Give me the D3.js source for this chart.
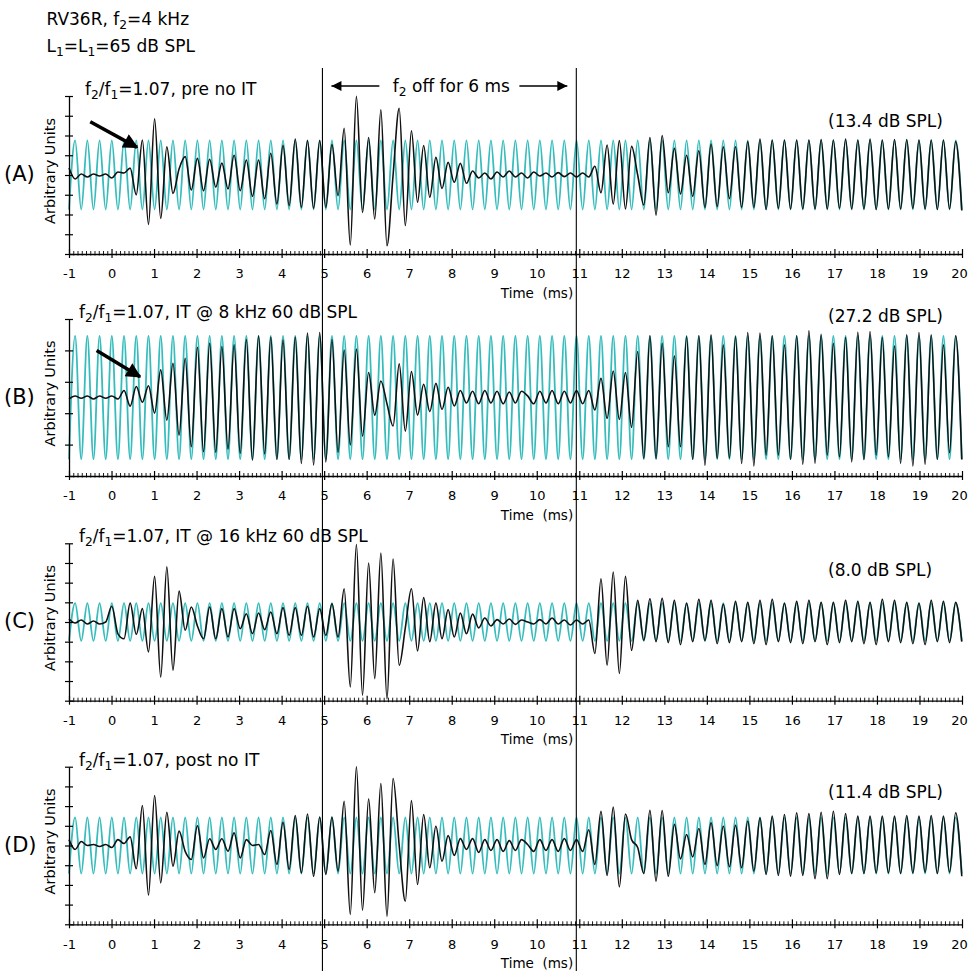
<!DOCTYPE html>
<html lang="en">
<head>
<meta charset="UTF-8" />
<title>DPOAE onset, f2 off for 6 ms</title>
<script src="https://d3js.org/d3.v7.min.js"></script>
<style>
    body { margin: 0; background: #fff; font-family: 'DejaVu Sans', sans-serif; }
    svg text { fill: #000; }
</style>
</head>
<body>
<svg id="chart" width="969" height="971"></svg>
<script>

// one sample per half cycle of the 2f1-f2 tone (about 3.48 kHz), starting at -1 ms
var startMs = -1;
var halfPeriodMs = 0.1438;

var xTickValues = [-1, 0, 1, 2, 3, 4, 5, 6, 7, 8, 9, 10, 11, 12, 13, 14, 15, 16, 17, 18, 19, 20];
var f2OffMs = [4.96, 10.93];

var panelIds = ["(A)", "(B)", "(C)", "(D)"];
var panelTitles = ["f_2/f_1=1.07, pre no IT", "f_2/f_1=1.07, IT @ 8 kHz 60 dB SPL",
                   "f_2/f_1=1.07, IT @ 16 kHz 60 dB SPL", "f_2/f_1=1.07, post no IT"];
var levelLabels = ["(13.4 dB SPL)", "(27.2 dB SPL)", "(8.0 dB SPL)", "(11.4 dB SPL)"];
var yDomains = [[-4, 4], [-5, 5], [-4, 4], [-4, 4]];
var yTicks = [[-4, -3, -2, -1, 0, 1, 2, 3, 4], [-5, -3, -1, 1, 3, 5],
              [-4, -3, -2, -1, 0, 1, 2, 3, 4], [-4, -3, -2, -1, 0, 1, 2, 3, 4]];

// cyan reference tone: constant amplitude in each panel
var cyanAmp = [1.75, 3.93, 0.96, 1.43];

// black traces: extremum values, one per half cycle
var blackA = [
    0.35, -0.2, 0.05, -0.1, 0.05, -0.05, 0.05, -0.15, 0.15, 0.1,
    0.35, -1.0, 1.77, -2.5, 2.84, -2.2, 1.43, -0.93, 0.3, 0.93,
    -0.76, 0.84, -0.8, 0.8, -0.62, 0.6, -0.7, 1.0, -0.8, 0.76,
    -1.08, 0.76, -1.2, 1.1, -1.47, 1.5, -1.55, 1.82, -1.64, 1.74,
    -1.69, 1.74, -1.64, 1.55, -1.05, 2.36, -3.54, 3.98, -1.9, 1.9,
    -2.23, 3.3, -3.58, 0.0, 3.38, -2.56, 2.24, -1.38, 1.49, -1.13,
    0.89, -0.68, 0.64, -0.37, 0.59, -0.42, 0.2, -0.15, 0.1, -0.2,
    0.15, -0.1, 0.2, -0.1, 0.1, -0.15, 0.15, -0.05, 0.1, -0.1,
    0.12, -0.08, 0.1, -0.1, 0.1, -0.1, 0.44, -0.9, 1.52, -1.47,
    1.74, -1.72, 1.45, 0.0, -1.52, 1.9, -2.03, 2.0, -0.9, 1.35,
    -0.96, 1.0, -1.08, 1.23, -1.64, 1.57, -1.6, 1.43, -1.2, 1.43,
    -1.64, 1.69, -1.64, 1.82, -1.75, 1.77, -1.69, 1.77, -1.72, 1.77,
    -1.72, 1.77, -1.72, 1.8, -1.72, 1.77, -1.69, 1.82, -1.72, 1.77,
    -1.72, 1.82, -1.75, 1.77, -1.72, 1.8, -1.72, 1.8, -1.69, 1.77,
    -1.72, 1.77, -1.75, 1.77, -1.72, 1.69, -1.8
];
var blackB = [
    -0.1, 0.1, -0.05, 0.1, -0.1, 0.1, -0.05, 0.1, -0.1, 0.45,
    -0.55, 0.7, -0.3, 0.75, -1.0, 1.76, -1.44, 2.18, -2.4, 2.5,
    -3.14, 3.2, -3.46, 3.46, -3.5, 3.25, -3.3, 3.35, -3.57, 3.7,
    -4.0, 3.93, -3.6, 3.85, -3.95, 3.68, -3.95, 3.85, -4.2, 4.1,
    -4.3, 4.14, -4.1, 3.7, -3.5, 3.03, -3.03, 3.08, -2.46, 1.59,
    -1.12, 1.05, -0.4, -1.82, 2.14, -2.14, 1.65, -1.12, 0.84, -0.9,
    0.9, -0.76, 0.65, -0.54, 0.45, -0.35, 0.4, -0.4, 0.45, -0.35,
    0.4, -0.4, 0.35, -0.35, 0.4, 0.1, -0.4, 0.4, -0.35, 0.45,
    -0.4, 0.4, -0.35, 0.45, -0.4, 0.45, -0.8, 1.22, -1.33, 1.69,
    -1.4, 1.59, -1.9, 2.93, -3.89, 3.93, -3.89, 3.46, -3.14, 2.65,
    -3.14, 3.89, -3.95, 3.93, -4.31, 4.0, -3.89, 3.35, -3.85, 3.89,
    -4.2, 4.14, -4.36, 4.1, -3.67, 3.93, -3.67, 3.35, -3.95, 3.93,
    -4.25, 4.25, -4.2, 4.03, -3.67, 3.46, -3.78, 3.84, -4.1, 4.16,
    -3.95, 4.2, -3.67, 3.84, -3.78, 3.29, -4.2, 4.0, -4.36, 4.14,
    -4.25, 4.0, -3.95, 3.35, -3.52, 3.93, -3.95
];
var blackC = [
    0.15, -0.05, 0.1, -0.1, 0.05, -0.1, 0.0, 0.8, -0.6, -0.85,
    0.96, -0.63, 0.68, -1.52, 2.32, -2.8, 2.8, -2.45, 1.57, -0.42,
    0.76, -0.2, -0.85, 0.76, -0.85, 0.68, -0.76, 0.68, -0.34, 0.42,
    -0.59, 0.46, -0.39, 0.51, -0.59, 0.73, -0.68, 0.73, -0.68, 0.8,
    -0.76, 0.68, -0.68, 0.93, -0.76, 1.69, -3.3, 3.94, -3.72, 3.0,
    -2.88, 3.5, -3.9, 3.2, -2.2, -0.3, 1.69, -1.47, 1.24, -1.0,
    0.96, -0.85, 0.63, -0.76, 0.45, -0.6, 0.4, -0.3, 0.2, -0.2,
    0.12, -0.1, 0.15, -0.12, 0.1, 0.0, -0.1, 0.12, -0.1, 0.2,
    -0.1, 0.1, -0.15, 0.1, -0.1, 0.1, -1.6, 2.2, -2.2, 2.54,
    -2.62, 2.32, -1.44, 1.1, -0.93, 1.18, -1.0, 1.2, -1.05, 1.1,
    -1.15, 0.95, -1.0, 1.15, -0.95, 1.1, -1.1, 0.9, -1.05, 1.05,
    -1.0, 1.0, -1.1, 1.1, -1.15, 1.15, -1.0, 0.95, -1.05, 1.05,
    -1.1, 1.1, -1.0, 1.0, -1.15, 1.0, -1.05, 1.1, -1.0, 1.05,
    -1.1, 1.0, -1.15, 1.15, -1.0, 1.1, -1.05, 1.0, -1.1, 0.95,
    -1.15, 1.1, -1.0, 1.05, -1.05, 1.0, -1.0
];
var blackD = [
    0.3, -0.2, 0.2, 0.0, 0.05, -0.05, 0.05, -0.1, 0.3, 0.1,
    0.44, -1.18, 2.03, -2.52, 2.54, -1.9, 1.69, -1.05, 0.73, -0.3,
    -0.71, 1.0, -0.63, 0.34, -0.2, 0.34, -0.29, 0.64, -0.63, 0.3,
    0.0, 0.05, -0.46, 0.76, -0.96, 1.18, -1.22, 1.52, -1.39, 1.6,
    -1.56, 1.45, -1.47, 1.45, -1.3, 2.25, -3.5, 4.0, -3.28, 2.37,
    -2.4, 3.15, -3.59, 3.4, 0.0, -2.83, 2.28, -1.98, 1.57, -1.13,
    0.98, -0.8, 0.5, -0.5, 0.35, -0.2, 0.35, -0.35, 0.3, -0.25,
    0.3, -0.3, 0.25, -0.25, 0.3, 0.05, -0.3, 0.3, -0.25, 0.3,
    -0.3, 0.35, -0.25, 0.3, -0.3, 0.8, -0.96, 1.74, -1.52, 1.95,
    -2.1, 1.6, 0.3, -0.1, -1.42, 1.79, -1.81, 1.78, -1.56, 1.07,
    -0.68, 0.56, -0.58, 0.86, -0.96, 1.15, -1.02, 0.98, -1.08, 1.02,
    -1.13, 1.24, -1.3, 1.4, -1.47, 1.49, -1.52, 1.57, -1.56, 1.66,
    -1.52, 1.62, -1.69, 1.69, -1.69, 1.74, -1.47, 1.62, -1.42, 1.49,
    -1.42, 1.49, -1.39, 1.49, -1.39, 1.49, -1.42, 1.52, -1.39, 1.49,
    -1.36, 1.52, -1.42, 1.49, -1.36, 1.66, -1.56
];
var blackTraces = [blackA, blackB, blackC, blackD];

// thick arrows marking the response onset in A and B (time ms, arbitrary units)
var onsetArrows = [
    {panel: 0, from: [-0.5, 2.7], to: [0.6, 1.4]},
    {panel: 1, from: [-0.35, 3.0], to: [0.67, 1.32]}
];

// layout of the four panels
var layout = [
    {top: 96, bottom: 254, titleX: 85, levelDy: 31},
    {top: 319, bottom: 476, titleX: 79, levelDy: 3},
    {top: 543.3, bottom: 700.7, titleX: 79, levelDy: 33},
    {top: 766.7, bottom: 924.3, titleX: 79, levelDy: 31}
];

var cyan = "#36bcbc";
var svg = d3.select("#chart");
var x = d3.scaleLinear().domain([-1, 20]).range([69, 962]);

var minorTicks = d3.range(-10, 201).map(function(i) { return i / 10; })
    .filter(function(v) { return Math.abs(v - Math.round(v)) > 1e-6; });

// text with "_c" one-character subscripts
function richText(sel, str) {
    var parts = str.split(/(_.)/), reset = false;
    parts.forEach(function(p) {
        if (!p) return;
        if (p[0] === "_") {
            sel.append("tspan").attr("dy", 4).attr("font-size", "72%").text(p[1]);
            reset = true;
        } else {
            var ts = sel.append("tspan").text(p);
            if (reset) { ts.attr("dy", -4); reset = false; }
        }
    });
    return sel;
}

var defs = svg.append("defs");
defs.append("marker").attr("id", "bigHead")
    .attr("viewBox", "0 0 10 10").attr("refX", 9).attr("refY", 5)
    .attr("markerUnits", "userSpaceOnUse").attr("markerWidth", 20).attr("markerHeight", 15)
    .attr("orient", "auto")
  .append("path").attr("d", "M0,0L10,5L0,10Z").attr("fill", "#000");
defs.append("marker").attr("id", "smallHead")
    .attr("viewBox", "0 0 10 10").attr("refX", 10).attr("refY", 5)
    .attr("markerUnits", "userSpaceOnUse").attr("markerWidth", 13).attr("markerHeight", 10)
    .attr("orient", "auto")
  .append("path").attr("d", "M0,0L10,5L0,10Z").attr("fill", "#000");

// header
richText(svg.append("text").attr("x", 46.5).attr("y", 25).attr("font-size", 17), "RV36R, f_2=4 kHz");
richText(svg.append("text").attr("x", 46.5).attr("y", 51.5).attr("font-size", 17), "L_1=L_1=65 dB SPL");

panelIds.forEach(function(id, p) {
    var L = layout[p];
    var y = d3.scaleLinear().domain(yDomains[p]).range([L.bottom, L.top]);
    var g = svg.append("g");

    var samples = blackTraces[p].map(function(v, i) {
        return {t: startMs + i * halfPeriodMs, v: v, c: (i % 2 ? 1 : -1) * cyanAmp[p]};
    });

    var cyanLine = d3.line().x(function(d) { return x(d.t); }).y(function(d) { return y(d.c); })
        .curve(d3.curveMonotoneX);
    var blackLine = d3.line().x(function(d) { return x(d.t); }).y(function(d) { return y(d.v); })
        .curve(d3.curveMonotoneX);

    g.append("path").datum(samples).attr("d", cyanLine)
        .attr("fill", "none").attr("stroke", cyan).attr("stroke-width", 1.8);
    g.append("path").datum(samples).attr("d", blackLine)
        .attr("fill", "none").attr("stroke", "#111").attr("stroke-width", 1.6);

    // x axis: minor ticks every 0.1 ms, labelled ticks every ms
    var minor = g.append("g").attr("transform", "translate(0," + L.bottom + ")")
        .call(d3.axisBottom(x).tickValues(minorTicks).tickSize(-3).tickSizeOuter(0).tickFormat(""));
    minor.select(".domain").remove();
    minor.selectAll(".tick line").attr("y1", 1.5).attr("stroke-width", 0.9);

    var major = g.append("g").attr("transform", "translate(0," + L.bottom + ")")
        .call(d3.axisBottom(x).tickValues(xTickValues).tickSize(-5).tickSizeOuter(0)
            .tickPadding(15).tickFormat(function(d) { return String(d); }));
    major.select(".domain").attr("stroke-width", 1.3);
    major.selectAll(".tick line").attr("y1", 4).attr("stroke-width", 1.2);
    major.selectAll(".tick text").attr("font-family", "'DejaVu Sans', sans-serif")
        .attr("font-size", 13).attr("fill", "#000")
        .attr("dx", function(d) { return d === 20 ? -3 : 0; });

    g.append("text").attr("x", 537).attr("y", L.bottom + 43.5)
        .attr("text-anchor", "middle").attr("font-size", 13.5).text("Time\u00a0\u00a0(ms)");

    // y axis
    var ya = g.append("g").attr("transform", "translate(" + x(-1) + ",0)")
        .call(d3.axisLeft(y).tickValues(yTicks[p]).tickSize(4).tickSizeOuter(0).tickFormat(""));
    ya.select(".domain").attr("stroke-width", 1.3);
    ya.selectAll(".tick line").attr("x1", 4).attr("stroke-width", 1.2);

    g.append("text").attr("transform", "translate(55," + (y(0) - 4) + ") rotate(-90)")
        .attr("text-anchor", "middle").attr("font-size", 14.5).text("Arbitrary Units");

    g.append("text").attr("x", 4).attr("y", y(0) + 6).attr("font-size", 21).text(id);

    richText(g.append("text").attr("x", L.titleX).attr("y", L.top - 1).attr("font-size", 17), panelTitles[p]);

    g.append("text").attr("x", 828).attr("y", L.top + L.levelDy).attr("font-size", 17).text(levelLabels[p]);

    onsetArrows.filter(function(a) { return a.panel === p; }).forEach(function(a) {
        g.append("line")
            .attr("x1", x(a.from[0])).attr("y1", y(a.from[1]))
            .attr("x2", x(a.to[0])).attr("y2", y(a.to[1]))
            .attr("stroke", "#000").attr("stroke-width", 3.5)
            .attr("marker-end", "url(#bigHead)");
    });
});

// f2-off markers
f2OffMs.forEach(function(t) {
    svg.append("line").attr("x1", x(t)).attr("x2", x(t)).attr("y1", 68).attr("y2", 971)
        .attr("stroke", "#000").attr("stroke-width", 1.1);
});
var xa = x(f2OffMs[0]), xb = x(f2OffMs[1]), mid = (xa + xb) / 2 + 2;
richText(svg.append("text").attr("x", mid).attr("y", 92).attr("text-anchor", "middle")
    .attr("font-size", 17), "f_2 off for 6 ms");
svg.append("line").attr("x1", mid - 72).attr("x2", xa + 9).attr("y1", 86).attr("y2", 86)
    .attr("stroke", "#000").attr("stroke-width", 1.3).attr("marker-end", "url(#smallHead)");
svg.append("line").attr("x1", mid + 68).attr("x2", xb - 9).attr("y1", 86).attr("y2", 86)
    .attr("stroke", "#000").attr("stroke-width", 1.3).attr("marker-end", "url(#smallHead)");

</script>
</body>
</html>
